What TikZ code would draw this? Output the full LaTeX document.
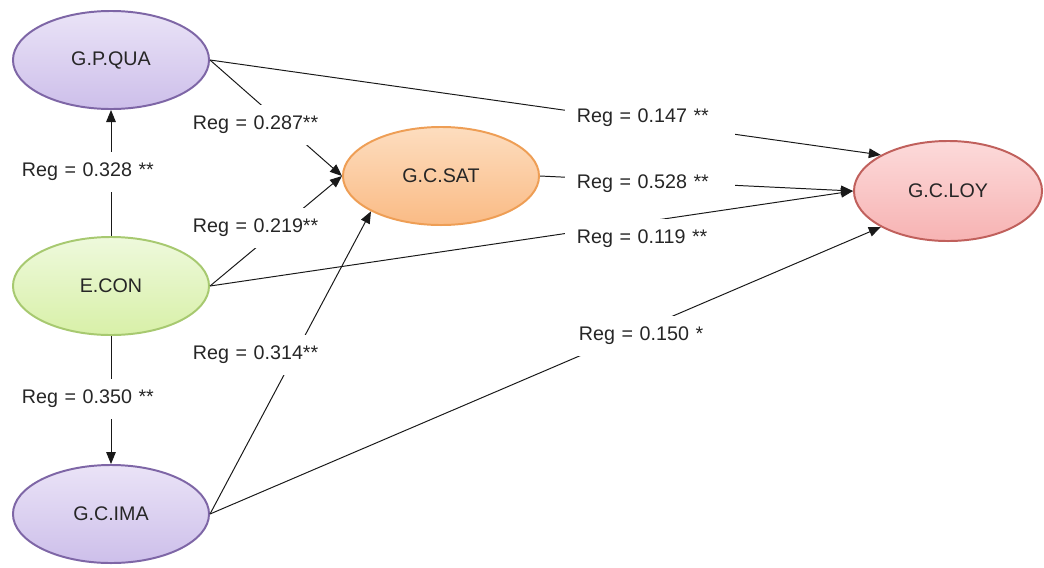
\documentclass[tikz,border=0pt]{standalone}
\usepackage{fontspec}
\setmainfont{Liberation Sans}
\usetikzlibrary{arrows.meta, shapes.geometric}

\definecolor{lavtop}{HTML}{EAE3F7}
\definecolor{lavbot}{HTML}{CDBFEA}
\definecolor{lavline}{HTML}{7E66A6}
\definecolor{orgtop}{HTML}{FDDDBF}
\definecolor{orgbot}{HTML}{FABB85}
\definecolor{orgline}{HTML}{EE9E55}
\definecolor{grntop}{HTML}{EEF9DC}
\definecolor{grnbot}{HTML}{D8F0A8}
\definecolor{grnline}{HTML}{A7C970}
\definecolor{pnktop}{HTML}{FCDADA}
\definecolor{pnkbot}{HTML}{F7B3B3}
\definecolor{pnkline}{HTML}{C0605C}

\tikzset{
  construct/.style={ellipse, line width=1.4pt, minimum width=4.9cm, minimum height=2.45cm,
    inner sep=0pt, font=\fontsize{14}{16}\selectfont, text=black!85},
  purplevar/.style={construct, draw=lavline, top color=lavtop, bottom color=lavbot},
  orangevar/.style={construct, draw=orgline, top color=orgtop, bottom color=orgbot},
  greenvar/.style={construct, draw=grnline, top color=grntop, bottom color=grnbot},
  pinkvar/.style={construct, draw=pnkline, top color=pnktop, bottom color=pnkbot},
  regline/.style={line width=0.7pt, black!90, -{Triangle[length=3mm, width=2.4mm]}},
  regbox/.style={fill=white, inner xsep=0.3cm, inner ysep=0pt, minimum height=1cm,
    text width=3.65cm, align=left, font=\fontsize{14}{16}\selectfont, text=black!85}
}

\begin{document}
\begin{tikzpicture}[x=0.025cm, y=-0.025cm]
  \useasboundingbox (0,0) rectangle (1044,567);

  % Latent constructs
  \node[purplevar] (qua) at (111,60) {G.P.QUA};
  \node[orangevar] (sat) at (441,176) {G.C.SAT};
  \node[pinkvar, minimum width=4.7cm, minimum height=2.5cm] (loy) at (948,191) {G.C.LOY};
  \node[greenvar] (con) at (111,286) {E.CON};
  \node[purplevar] (ima) at (111,514) {G.C.IMA};

  % Regression paths
  \foreach \a/\b in {con.north/qua.south, con.south/ima.north,
                     qua.east/sat.west, con.east/sat.west, ima.east/sat.south west,
                     qua.east/loy.north west, sat.east/loy.west,
                     con.east/loy.west, ima.east/loy.south west} {
    \draw[regline] (\a) -- (\b);
  }

  % Coefficients, boxed in white over the paths
  \foreach \n/\x/\y/\t in {cq/95/172/{Reg = 0.328 **}, ci/95/399/{Reg = 0.350 **},
                           qs/266/125/{Reg = 0.287**}, cs/266/228/{Reg = 0.219**},
                           is/266/355/{Reg = 0.314**},
                           ql/650/118/{Reg = 0.147 **}, sl/650/184/{Reg = 0.528 **},
                           cl/650/239/{Reg = 0.119 **}, il/652/336/{Reg = 0.150 *}} {
    \node[regbox] (r\n) at (\x,\y) {\t};
  }
\end{tikzpicture}
\end{document}
